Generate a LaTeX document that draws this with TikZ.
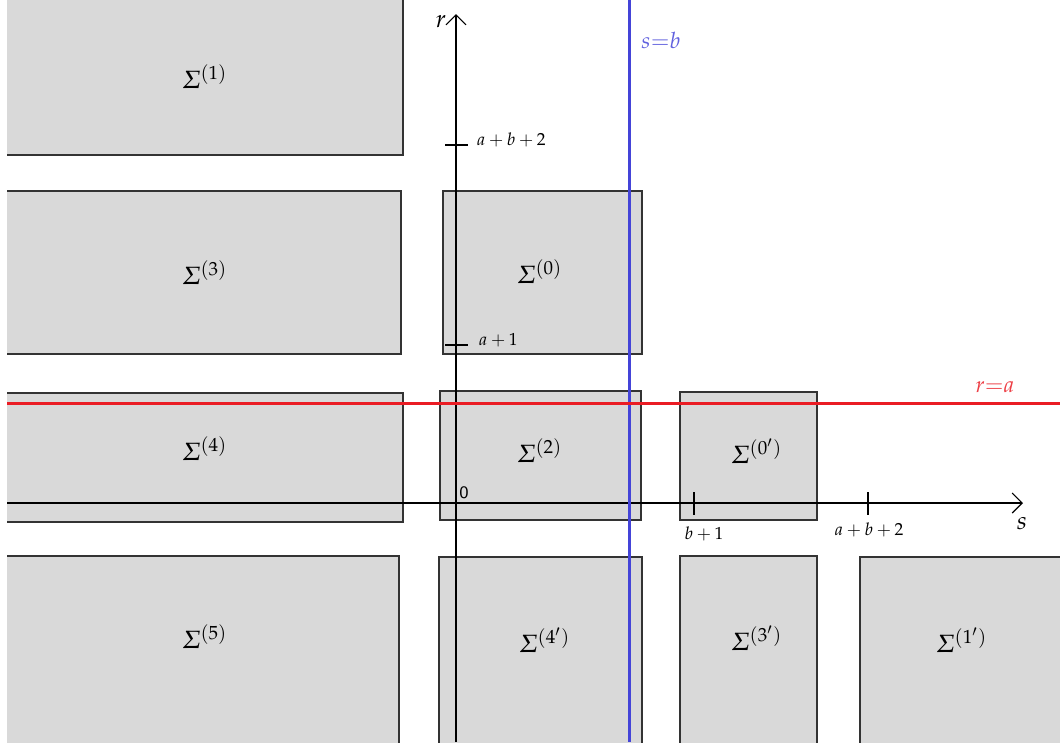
\documentclass[tikz,border=0pt]{standalone}
\usepackage{amsmath}
\usepackage{mathpazo}
\usetikzlibrary{arrows.meta}
\definecolor{regiongray}{RGB}{217,217,217}
\definecolor{lineblue}{RGB}{68,68,216}
\definecolor{linered}{RGB}{234,28,36}
\tikzset{region/.style={fill=regiongray,draw=black!80,line width=0.55pt}}
\tikzset{axis/.style={line width=0.45pt,-{Straight Barb[length=4pt,width=8pt]}}}
\tikzset{tick/.style={line width=0.45pt}}
\tikzset{ticklabel/.style={font=\scriptsize,inner sep=1pt}}
\tikzset{wall/.style={line width=1.2pt}}

\begin{document}
\begin{tikzpicture}[x=0.4pt,y=-0.4pt]
    \useasboundingbox (0,0) rectangle (1060,742);
    \clip (7,0) rectangle (1060,742);
    % regions
    \draw[region] (0,-10) rectangle (403,155);
    \draw[region] (0,191) rectangle (401,354);
    \draw[region] (0,393) rectangle (403,522);
    \draw[region] (0,556) rectangle (399,760);
    \draw[region] (443,191) rectangle (642,354);
    \draw[region] (440,391) rectangle (641,520);
    \draw[region] (439,557) rectangle (642,760);
    \draw[region] (680,392) rectangle (817,520);
    \draw[region] (680,556) rectangle (817,760);
    \draw[region] (860,557) rectangle (1070,760);
    \node (sig1) at (205,77) {$\varSigma^{(1)}$};
    \node (sig3) at (205,273) {$\varSigma^{(3)}$};
    \node (sig4) at (205,449) {$\varSigma^{(4)}$};
    \node (sig5) at (205,637) {$\varSigma^{(5)}$};
    \node (sig0) at (540,272) {$\varSigma^{(0)}$};
    \node (sig2) at (540,451) {$\varSigma^{(2)}$};
    \node (sig4p) at (545,640) {$\varSigma^{(4')}$};
    \node (sig0p) at (757,451) {$\varSigma^{(0')}$};
    \node (sig3p) at (757,638) {$\varSigma^{(3')}$};
    \node (sig1p) at (962,640) {$\varSigma^{(1')}$};
    % axes
    \coordinate (rbot) at (456,742);
    \coordinate (rtop) at (456,14);
    \coordinate (sleft) at (7,503);
    \coordinate (sright) at (1023,503);
    \draw[axis] (rbot) -- (rtop);
    \draw[axis] (sleft) -- (sright);
    \node (rlab) at (441,22) {$r$};
    \node (slab) at (1022,524) {$s$};
    \node[font=\scriptsize\sffamily,inner sep=1pt] (zero) at (464,493) {0};
    % ticks
    \draw[tick] (445,145) -- (468,145);
    \draw[tick] (445,345) -- (468,345);
    \draw[tick] (694,492) -- (694,515);
    \draw[tick] (868,492) -- (868,515);
    \node[ticklabel,anchor=west] (rt2) at (474,140) {$a+b+2$};
    \node[ticklabel,anchor=west] (rt1) at (476,340) {$a+1$};
    \node[ticklabel] (st1) at (704,534) {$b+1$};
    \node[ticklabel] (st2) at (869,530) {$a+b+2$};
    % the two lines
    \coordinate (btop) at (629,0);
    \coordinate (bbot) at (629,742);
    \coordinate (rleft) at (7,403);
    \coordinate (rright) at (1060,403);
    \draw[wall,lineblue] (btop) -- (bbot);
    \draw[wall,linered] (rleft) -- (rright);
    \node[lineblue!85,font=\small] (blab) at (661,40) {$s{=}b$};
    \node[linered!85,font=\small] (rlab2) at (995,387) {$r{=}a$};
\end{tikzpicture}
\end{document}
